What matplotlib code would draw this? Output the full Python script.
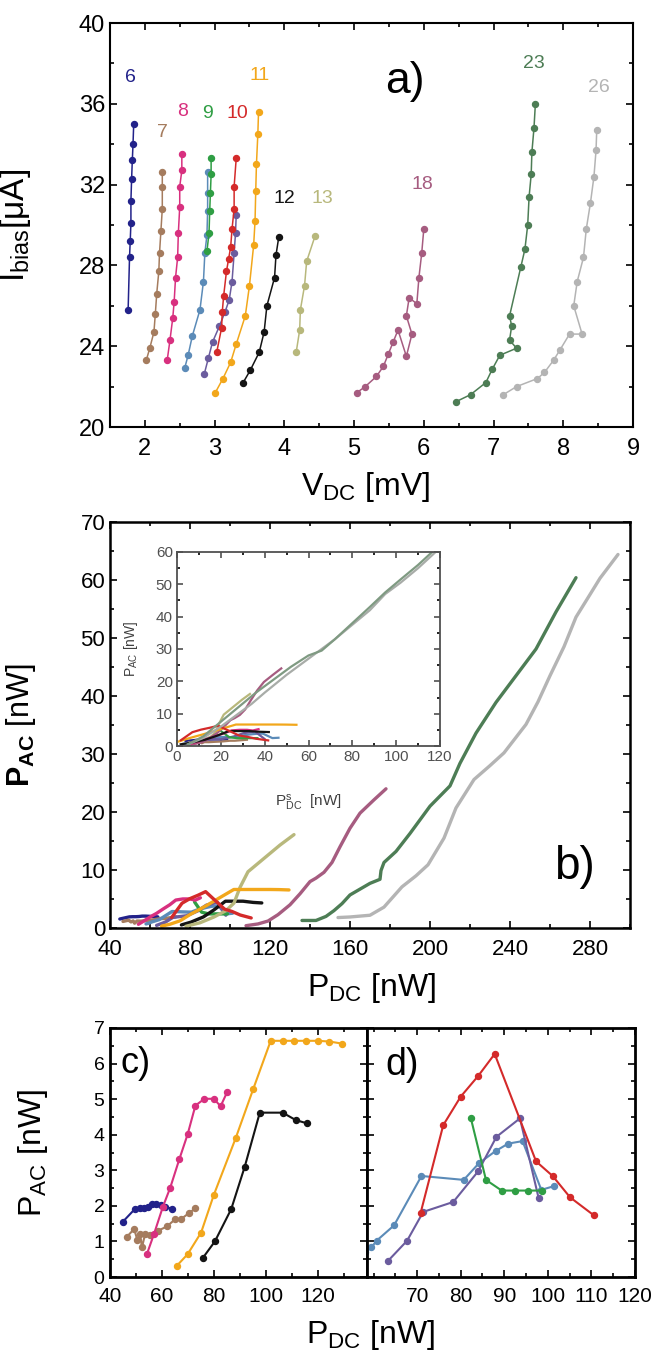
import matplotlib
matplotlib.use("Agg")
import matplotlib.pyplot as plt
from matplotlib.ticker import MultipleLocator, NullFormatter

plt.rcParams['font.family'] = ['Liberation Sans', 'DejaVu Sans']
plt.rcParams['mathtext.fontset'] = 'custom'
plt.rcParams['mathtext.rm'] = 'Liberation Sans'
plt.rcParams['mathtext.it'] = 'Liberation Sans:italic'
plt.rcParams['mathtext.bf'] = 'Liberation Sans:bold'

# ---------------- colours ----------------
C_NAVY = '#22228a'
C_BROWN = '#a57c5e'
C_MAGENTA = '#d8307f'
C_STEEL = '#5b8bb8'
C_GREEN = '#2f9e44'
C_PURPLE = '#6b5c9e'
C_RED = '#d42a2a'
C_ORANGE = '#f2a71b'
C_BLACK = '#141414'
C_OLIVE = '#b8b87c'
C_MAUVE = '#a65c80'
C_DGREEN = '#4d7d55'
C_GRAY = '#b4b4b4'

# ---------------- panel a: V_DC [mV] vs I_bias [uA] ----------------
v6 = [1.76, 1.78, 1.79, 1.80, 1.80, 1.81, 1.82, 1.83, 1.84]
i6 = [25.8, 28.4, 29.2, 30.1, 31.2, 32.3, 33.2, 34.0, 35.0]
v7 = [2.02, 2.07, 2.13, 2.15, 2.17, 2.20, 2.21, 2.23, 2.25, 2.25, 2.25]
i7 = [23.3, 23.9, 24.7, 25.6, 26.6, 27.7, 28.6, 29.7, 30.8, 31.9, 32.6]
v8 = [2.32, 2.36, 2.40, 2.42, 2.44, 2.47, 2.48, 2.50, 2.50, 2.53, 2.53]
i8 = [23.3, 24.3, 25.4, 26.2, 27.4, 28.4, 29.6, 30.9, 31.9, 32.7, 33.5]
v_steel = [2.57, 2.62, 2.68, 2.79, 2.84, 2.86, 2.89, 2.90, 2.90, 2.90]
i_steel = [22.9, 23.55, 24.5, 25.8, 27.2, 28.6, 29.5, 30.7, 31.6, 32.6]
v9 = [2.89, 2.92, 2.93, 2.94, 2.95, 2.95]
i9 = [28.7, 29.6, 30.7, 31.6, 32.5, 33.3]
v_purple = [2.85, 2.91, 2.97, 3.07, 3.15, 3.21, 3.25, 3.28, 3.30, 3.31]
i_purple = [22.6, 23.4, 24.2, 25.0, 25.7, 26.3, 27.2, 28.6, 29.6, 30.5]
v10 = [3.03, 3.10, 3.11, 3.13, 3.17, 3.20, 3.23, 3.25, 3.28, 3.28, 3.31]
i10 = [23.7, 24.9, 25.7, 26.5, 27.7, 28.3, 28.9, 29.8, 30.8, 31.9, 33.3]
v11 = [3.01, 3.12, 3.23, 3.31, 3.44, 3.50, 3.56, 3.58, 3.59, 3.60, 3.62, 3.63]
i11 = [21.7, 22.4, 23.2, 24.1, 25.5, 27.0, 29.0, 30.2, 31.7, 33.0, 34.5, 35.6]
v12 = [3.41, 3.51, 3.64, 3.71, 3.75, 3.86, 3.88, 3.92]
i12 = [22.2, 22.8, 23.7, 24.7, 26.0, 27.4, 28.5, 29.4]
v13 = [4.17, 4.22, 4.23, 4.29, 4.32, 4.44]
i13 = [23.7, 24.8, 25.8, 27.0, 28.2, 29.45]
v18 = [5.04, 5.16, 5.32, 5.42, 5.49, 5.56, 5.63, 5.75, 5.83, 5.75, 5.79, 5.90, 5.93, 5.97, 6.00]
i18 = [21.7, 22.0, 22.5, 23.0, 23.6, 24.2, 24.8, 23.5, 24.6, 25.5, 26.4, 26.1, 27.4, 28.6, 29.8]
v23 = [6.46, 6.67, 6.89, 6.98, 7.09, 7.33, 7.23, 7.26, 7.23, 7.39, 7.45, 7.49, 7.51, 7.54, 7.55, 7.58, 7.60]
i23 = [21.25, 21.6, 22.2, 22.85, 23.55, 23.9, 24.3, 25.0, 25.5, 27.9, 28.8, 30.0, 31.4, 32.5, 33.6, 34.8, 36.0]
v26 = [7.14, 7.33, 7.63, 7.73, 7.86, 7.95, 8.09, 8.27, 8.15, 8.20, 8.29, 8.33, 8.39, 8.44, 8.47, 8.48]
i26 = [21.6, 22.0, 22.4, 22.7, 23.3, 23.8, 24.6, 24.6, 26.0, 27.2, 28.4, 29.8, 31.1, 32.4, 33.7, 34.7]

curve_labels = ['6', '7', '8', '9', '10', '11', '12', '13', '18', '23', '26']
label_x = [1.80, 2.25, 2.54, 2.90, 3.32, 3.65, 4.00, 4.54, 5.98, 7.58, 8.51]
label_y = [37.3, 34.6, 35.6, 35.5, 35.5, 37.4, 31.3, 31.3, 32.0, 38.0, 36.8]
label_colors = [C_NAVY, C_BROWN, C_MAGENTA, C_GREEN, C_RED, C_ORANGE, C_BLACK,
                C_OLIVE, C_MAUVE, C_DGREEN, C_GRAY]

# ---------------- panels c / d: P_DC [nW] vs P_AC [nW] ----------------
p_navy = [44.9, 49.7, 51.4, 53.0, 54.5, 56.1, 57.8, 59.5, 61.3, 63.9]
a_navy = [1.55, 1.92, 1.95, 1.95, 1.98, 2.05, 2.05, 2.02, 1.97, 1.92]
p_brown = [46.5, 49.3, 50.5, 51.6, 52.3, 53.5, 55.5, 58.5, 61.9, 65.2, 67.4, 70.3, 72.9]
a_brown = [1.13, 1.35, 1.05, 1.22, 0.83, 1.20, 1.18, 1.30, 1.42, 1.63, 1.63, 1.79, 1.93]
p_magenta = [54.2, 57.0, 60.4, 63.2, 66.7, 69.9, 72.9, 76.4, 80.0, 82.6, 85.2]
a_magenta = [0.64, 1.22, 1.98, 2.51, 3.31, 4.01, 4.82, 5.01, 5.01, 4.80, 5.21]
p_orange = [65.8, 69.9, 75.1, 80.0, 88.4, 95.2, 101.9, 106.5, 111.0, 115.5, 120.0, 124.5, 129.5]
a_orange = [0.32, 0.64, 1.25, 2.31, 3.90, 5.29, 6.64, 6.64, 6.64, 6.64, 6.64, 6.62, 6.56]
p_black = [75.7, 80.4, 86.7, 91.9, 97.7, 106.5, 111.6, 115.9]
a_black = [0.53, 1.00, 1.91, 3.10, 4.62, 4.62, 4.41, 4.32]
p_red = [70.8, 76.0, 80.0, 84.0, 87.8, 97.3, 101.1, 105.1, 110.6]
a_red = [1.80, 4.27, 5.07, 5.65, 6.27, 3.25, 2.84, 2.24, 1.73]
p_green = [82.3, 85.8, 89.4, 92.4, 95.5, 98.7]
a_green = [4.48, 2.73, 2.43, 2.43, 2.43, 2.43]
p_steel = [58.0, 59.5, 60.7, 64.7, 71.0, 80.7, 84.2, 88.0, 90.9, 94.2, 98.5, 101.3]
a_steel = [0.70, 0.83, 1.02, 1.45, 2.84, 2.73, 3.20, 3.54, 3.75, 3.82, 2.45, 2.55]
p_purple = [63.3, 67.7, 71.4, 78.3, 84.0, 88.2, 93.6, 97.9]
a_purple = [0.45, 1.02, 1.83, 2.11, 2.97, 3.94, 4.46, 2.21]

# ---------------- panel b extra curves ----------------
p_olive = [78, 85, 92, 98, 102, 105, 109, 117, 125, 132]
a_olive = [0.3, 0.9, 1.9, 3.0, 4.3, 7.0, 9.7, 12.0, 14.3, 16.1]
p_mauve = [108, 114, 119, 124, 130, 135, 140, 143, 147, 151, 155, 160, 165, 172, 178]
a_mauve = [0.4, 0.7, 1.2, 2.3, 4.0, 5.9, 8.0, 8.6, 9.6, 11.3, 14.0, 17.2, 19.8, 22.1, 24.0]
p_dgreen = [136, 143, 148, 152, 156, 160, 165, 170, 175, 175.5, 177, 183, 190, 200, 210,
            215, 223, 233, 243, 253, 263, 273]
a_dgreen = [1.3, 1.3, 2.0, 3.0, 4.2, 5.7, 6.7, 7.7, 8.4, 9.9, 11.3, 13.2, 16.3, 21.0, 24.5,
            28.4, 33.6, 38.9, 43.5, 48.1, 54.5, 60.4]
p_gray = [154, 160, 170, 177, 186, 193, 199, 207, 213, 222, 230, 237, 248, 254, 260, 267,
          273, 280, 285, 294]
a_gray = [1.8, 1.9, 2.2, 3.6, 7.1, 9.0, 10.9, 15.5, 20.7, 25.6, 28.0, 30.2, 35.1, 39.0,
          43.5, 48.5, 53.6, 57.5, 60.3, 64.4]

# ---------------- inset: P^s_DC [nW] vs P_AC [nW] ----------------
ps_gray = [5, 12, 20, 26, 30, 34, 40, 50, 60, 65, 72, 80, 88, 95, 102, 110, 118]
as_gray = [0.5, 2.5, 6.0, 9.0, 11.0, 13.0, 16.5, 22.0, 27.0, 29.5, 33.0, 37.5, 42.0, 47.0,
           50.5, 55.0, 60.0]
ps_dgreen = [5, 12, 20, 28, 36, 44, 52, 60, 66, 72, 80, 88, 95, 102, 110, 118]
as_dgreen = [0.5, 3.0, 7.5, 12.0, 16.5, 20.5, 24.5, 28.0, 29.5, 33.0, 38.0, 43.0, 47.5,
             51.5, 56.0, 61.0]
# P^s_DC = scale * (P_DC - offset) for the smaller devices
inset_offset = {'navy': 41, 'brown': 41, 'magenta': 48, 'orange': 75, 'black': 74,
                'red': 69, 'green': 62, 'steel': 55, 'purple': 58, 'olive': 68,
                'mauve': 100}
inset_scale = {'olive': 0.52, 'mauve': 0.61}

# =========================================================
fig = plt.figure(figsize=(6.67, 13.61), dpi=100)
W, H = 667.0, 1361.0


def ax_at(l, t, r, b):
    return fig.add_axes([l / W, 1 - b / H, (r - l) / W, (b - t) / H])


def style(ax, size, lw=1.6, major=5, minor=3):
    for s in ax.spines.values():
        s.set_linewidth(lw)
    ax.tick_params(which='both', direction='in', top=True, right=True,
                   width=1.2, labelsize=size)
    ax.tick_params(which='major', length=major)
    ax.tick_params(which='minor', length=minor)


# ---------------- panel a ----------------
axa = ax_at(110, 23, 633, 427)
mk = dict(marker='o', ms=4.3, lw=1.1)
series_a = [(v6, i6, C_NAVY), (v7, i7, C_BROWN), (v8, i8, C_MAGENTA),
            (v_steel, i_steel, C_STEEL), (v9, i9, C_GREEN), (v_purple, i_purple, C_PURPLE),
            (v10, i10, C_RED), (v11, i11, C_ORANGE), (v12, i12, C_BLACK),
            (v13, i13, C_OLIVE), (v18, i18, C_MAUVE), (v23, i23, C_DGREEN),
            (v26, i26, C_GRAY)]
for v, i, c in series_a:
    axa.plot(v, i, color=c, mfc=c, mec=c, **mk)
for t, x, y, c in zip(curve_labels, label_x, label_y, label_colors):
    axa.text(x, y, t, color=c, fontsize=14, ha='center', va='center')
axa.text(5.73, 37.1, 'a)', fontsize=32, ha='center', va='center')
axa.set_xlim(1.5, 9)
axa.set_ylim(20, 40)
axa.xaxis.set_major_locator(MultipleLocator(1))
axa.xaxis.set_minor_locator(MultipleLocator(0.5))
axa.yaxis.set_major_locator(MultipleLocator(4))
axa.yaxis.set_minor_locator(MultipleLocator(2))
style(axa, 17, lw=1.5)
axa.tick_params(axis='x', pad=8)
axa.set_ylabel(r'$\mathrm{I_{bias}}$[μA]', fontsize=24)
axa.yaxis.set_label_coords(-0.147, 0.5)
fig.text(366 / W, 1 - 487 / H, r'$\mathrm{V_{DC}}$ [mV]', fontsize=23,
         ha='center', va='center')

# ---------------- panel b ----------------
axb = ax_at(110, 522, 630, 928)
small_sets = [(p_navy, a_navy, C_NAVY), (p_brown, a_brown, C_BROWN),
              (p_steel, a_steel, C_STEEL), (p_purple, a_purple, C_PURPLE),
              (p_green, a_green, C_GREEN), (p_black, a_black, C_BLACK),
              (p_olive, a_olive, C_OLIVE), (p_orange, a_orange, C_ORANGE),
              (p_magenta, a_magenta, C_MAGENTA), (p_red, a_red, C_RED),
              (p_mauve, a_mauve, C_MAUVE), (p_dgreen, a_dgreen, C_DGREEN),
              (p_gray, a_gray, C_GRAY)]
for p, a, c in small_sets:
    axb.plot(p, a, color=c, lw=2.4, solid_capstyle='round')
axb.text(272, 10.5, 'b)', fontsize=33, ha='center', va='center')
axb.set_xlim(40, 300)
axb.set_ylim(0, 70)
axb.xaxis.set_major_locator(MultipleLocator(40))
axb.xaxis.set_minor_locator(MultipleLocator(20))
axb.yaxis.set_major_locator(MultipleLocator(10))
axb.yaxis.set_minor_locator(MultipleLocator(5))
style(axb, 16, lw=1.8)
axb.tick_params(axis='x', pad=8)
axb.set_ylabel(r'$\mathbf{P}_{\mathbf{AC}}$ [nW]', fontsize=22)
axb.yaxis.set_label_coords(-0.138, 0.5)
fig.text(372 / W, 1 - 988 / H, r'$\mathrm{P_{DC}}$ [nW]', fontsize=23,
         ha='center', va='center')

# ---------------- inset ----------------
axi = ax_at(177, 552, 440, 746)
inset_sets = [(p_navy, a_navy, C_NAVY, 'navy'), (p_brown, a_brown, C_BROWN, 'brown'),
              (p_steel, a_steel, C_STEEL, 'steel'), (p_purple, a_purple, C_PURPLE, 'purple'),
              (p_green, a_green, C_GREEN, 'green'), (p_olive, a_olive, C_OLIVE, 'olive'),
              (p_mauve, a_mauve, C_MAUVE, 'mauve'), (p_magenta, a_magenta, C_MAGENTA, 'magenta'),
              (p_black, a_black, C_BLACK, 'black'), (p_orange, a_orange, C_ORANGE, 'orange'),
              (p_red, a_red, C_RED, 'red')]
for p, a, c, key in inset_sets:
    k = inset_scale.get(key, 1.0)
    axi.plot([k * (x - inset_offset[key]) for x in p], a, color=c, lw=1.6)
axi.plot(ps_gray, as_gray, color='#a8aca8', lw=1.6)
axi.plot(ps_dgreen, as_dgreen, color='#7f9a82', lw=1.6)
axi.set_xlim(0, 120)
axi.set_ylim(0, 60)
axi.xaxis.set_major_locator(MultipleLocator(20))
axi.xaxis.set_minor_locator(MultipleLocator(10))
axi.yaxis.set_major_locator(MultipleLocator(10))
axi.yaxis.set_minor_locator(MultipleLocator(5))
style(axi, 11, lw=1.3, major=4, minor=2.5)
axi.tick_params(labelcolor='#505050', color='#505050', pad=3)
for s in axi.spines.values():
    s.set_color('#505050')
axi.set_ylabel(r'$\mathrm{P_{AC}}$ [nW]', fontsize=10, color='#404040')
axi.yaxis.set_label_coords(-0.14, 0.5)
axi.set_xlabel(r'$\mathrm{P^{s}_{DC}}$  [nW]', fontsize=11, color='#404040')
axi.xaxis.set_label_coords(0.5, -0.24)

# ---------------- panel c ----------------
axc = ax_at(110, 1028, 367, 1277)
mk2 = dict(marker='o', ms=4.3, lw=1.5)
for p, a, c in [(p_navy, a_navy, C_NAVY), (p_brown, a_brown, C_BROWN),
                (p_magenta, a_magenta, C_MAGENTA), (p_orange, a_orange, C_ORANGE),
                (p_black, a_black, C_BLACK)]:
    axc.plot(p, a, color=c, mfc=c, mec=c, **mk2)
axc.text(50, 6.0, 'c)', fontsize=26, ha='center', va='center')
axc.set_xlim(40, 139)
axc.set_ylim(0, 7)
axc.xaxis.set_major_locator(MultipleLocator(20))
axc.xaxis.set_minor_locator(MultipleLocator(10))
axc.yaxis.set_major_locator(MultipleLocator(1))
axc.yaxis.set_minor_locator(MultipleLocator(0.5))
style(axc, 15, lw=2.0)
axc.tick_params(axis='y', labelsize=14, pad=4)
axc.tick_params(axis='x', pad=7)
axc.set_ylabel(r'$\mathrm{P_{AC}}$ [nW]', fontsize=23)
axc.yaxis.set_label_coords(-0.233, 0.5)

# ---------------- panel d ----------------
axd = ax_at(367, 1028, 635, 1277)
for p, a, c in [(p_steel, a_steel, C_STEEL), (p_purple, a_purple, C_PURPLE),
                (p_green, a_green, C_GREEN), (p_red, a_red, C_RED)]:
    axd.plot(p, a, color=c, mfc=c, mec=c, **mk2)
axd.text(66.5, 5.95, 'd)', fontsize=27, ha='center', va='center')
axd.set_xlim(58.5, 120)
axd.set_ylim(0, 7)
axd.xaxis.set_major_locator(MultipleLocator(10))
axd.xaxis.set_minor_locator(MultipleLocator(5))
axd.yaxis.set_major_locator(MultipleLocator(1))
axd.yaxis.set_minor_locator(MultipleLocator(0.5))
style(axd, 15, lw=2.0)
axd.yaxis.set_major_formatter(NullFormatter())
axd.tick_params(axis='x', pad=7)
axd.set_xticks([70, 80, 90, 100, 110, 120])

fig.text(371 / W, 1 - 1335 / H, r'$\mathrm{P_{DC}}$ [nW]', fontsize=23,
         ha='center', va='center')

fig.savefig('out.png', dpi=100)
